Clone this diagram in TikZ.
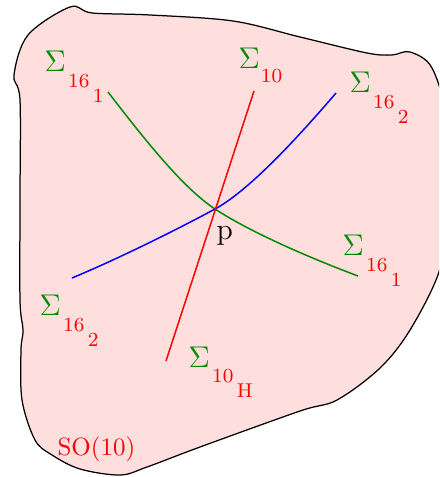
\documentclass[tikz,border=0pt]{standalone}
\usetikzlibrary{positioning}
\usepackage{xcolor}
\definecolor{sheet}{HTML}{FFDEDE}
\definecolor{leaf}{HTML}{008A00}

% Sigma label with a two level subscript
\newcommand{\bigsig}{{\fontsize{11.5}{13}\selectfont$\Sigma$}}
\newcommand{\sig}[2]{\bigsig\kern1pt\raisebox{-6.2pt}{\footnotesize\color{red}#1\kern1.4pt\raisebox{-6pt}{#2}}}

\begin{document}
\begin{tikzpicture}[
    x=0.1407mm, y=-0.1407mm,
    region/.style={draw=black, fill=sheet, line width=0.5pt},
    sheet16a/.style={draw=leaf, line width=0.6pt},
    sheet16b/.style={draw=blue, line width=0.6pt},
    sheet10/.style={draw=red, line width=0.6pt},
    lbl/.style={anchor=base west, inner sep=0pt, text=leaf},
  ]
    \useasboundingbox (0,0) rectangle (439,477);
    \clip (0,0) rectangle (439,477);

    % the SO(10) region
    \draw[region] plot[smooth cycle, tension=0.55] coordinates {
      (70,7) (92,13) (150,15) (233,21) (300,37) (367,53) (392,55)
      (410,52) (432,68) (446,120) (446,220) (439,272) (410,330)
      (380,368) (337,400) (300,411) (200,447) (147,467) (120,475)
      (80,469) (52,455) (35,440) (22,400) (21,350) (23,330)
      (20,300) (20,200) (20,100) (14,75) (28,35)};

    \coordinate (p) at (215,209);
    \coordinate (a1) at (108,92);
    \coordinate (a2) at (358,276);
    \coordinate (b1) at (72,278);
    \coordinate (b2) at (336,93);
    \coordinate (h1) at (254,91);
    \coordinate (h2) at (166,361);

    \draw[sheet16a] (a1) .. controls (145,140) and (183,188) .. (p)
                         .. controls (250,232) and (310,258) .. (a2);
    \draw[sheet16b] (b1) .. controls (120,258) and (180,228) .. (p)
                         .. controls (250,190) and (300,135) .. (b2);
    \draw[sheet10] (h1) -- (h2);

    \node[lbl] (l16a) at (44,72) {\sig{16}{1}};
    \node[lbl] (l10) at (238,69) {\bigsig\kern0.5pt\raisebox{-5.6pt}{\footnotesize\color{red}10}};
    \node[lbl] (l16b) at (349,93) {\sig{16}{2}};
    \node[lbl] (r16a) at (342,256) {\sig{16}{1}};
    \node[lbl] (r16b) at (39,316) {\sig{16}{2}};
    \node[lbl] (l10h) at (188,367) {\sig{10}{H}};
    \node[lbl, text=black, font=\large] (lp) at (216,240) {p};
    \node[lbl, text=red] (lso) at (57,455) {SO(10)};
  \end{tikzpicture}
\end{document}
